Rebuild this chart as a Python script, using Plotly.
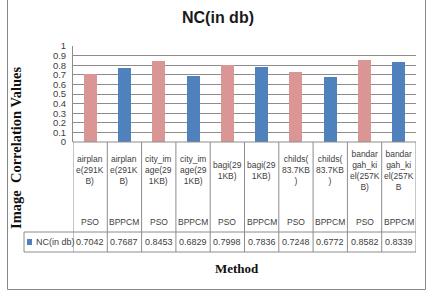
import plotly.graph_objects as go

# ---- data ----
image_labels = [
    "airplan<br>e(291K<br>B)", "airplan<br>e(291K<br>B)",
    "city_im<br>age(29<br>1KB)", "city_im<br>age(29<br>1KB)",
    "bagi(29<br>1KB)", "bagi(29<br>1KB)",
    "childs(<br>83.7KB<br>)", "childs(<br>83.7KB<br>)",
    "bandar<br>gah_ki<br>el(257K<br>B)", "bandar<br>gah_ki<br>el(257K<br>B",
]
methods = ["PSO", "BPPCM", "PSO", "BPPCM", "PSO", "BPPCM", "PSO", "BPPCM", "PSO", "BPPCM"]
nc_values = [0.7042, 0.7687, 0.8453, 0.6829, 0.7998, 0.7836, 0.7248, 0.6772, 0.8582, 0.8339]
value_labels = ["0.7042", "0.7687", "0.8453", "0.6829", "0.7998", "0.7836", "0.7248", "0.6772", "0.8582", "0.8339"]
series_name = "NC(in db)"

PINK = "#D99694"
BLUE = "#4F81BD"
method_colors = {"PSO": PINK, "BPPCM": BLUE}

W, H = 430, 300
L, R, T, B = 73, 416, 46, 142
LINE = "#8c8c8c"
TXT = "#404040"
SANS = "Liberation Sans, Arial, sans-serif"


def px(xp):
    return (xp - L) / (R - L)


def py(yp):
    return (B - yp) / (B - T)


n = len(nc_values)
xs = list(range(n))

fig = go.Figure()
fig.add_trace(go.Bar(
    x=xs, y=nc_values, width=0.38,
    marker=dict(color=[method_colors[m] for m in methods], line=dict(width=0)),
    showlegend=False, hoverinfo="skip",
))

shapes = []
# outer border
shapes.append(dict(type="rect", xref="paper", yref="paper", x0=px(7.5), x1=px(425.5),
                   y0=py(289.5), y1=py(-5), line=dict(color="#888888", width=1)))
# table horizontal lines
for yl in (142, 232, 252):
    x0 = 73 if yl == 142 else 24
    shapes.append(dict(type="line", xref="paper", yref="paper", x0=px(x0), x1=px(R),
                       y0=py(yl), y1=py(yl), line=dict(color=LINE, width=1)))
# table vertical lines
for k in range(n + 1):
    shapes.append(dict(type="line", xref="x", yref="paper", x0=k - 0.5, x1=k - 0.5,
                       y0=py(142), y1=py(252), line=dict(color=LINE, width=1)))
shapes.append(dict(type="line", xref="paper", yref="paper", x0=px(24), x1=px(24),
                   y0=py(232), y1=py(252), line=dict(color=LINE, width=1)))
# legend key
shapes.append(dict(type="rect", xref="paper", yref="paper", x0=px(27), x1=px(32),
                   y0=py(245), y1=py(239), fillcolor=BLUE, line=dict(width=0)))

ann = []
for i in range(n):
    ann.append(dict(x=i, y=py(170), xref="x", yref="paper", text=image_labels[i],
                    showarrow=False, font=dict(size=8.5, color=TXT, family=SANS),
                    xanchor="center", yanchor="middle"))
    ann.append(dict(x=i, y=py(222), xref="x", yref="paper", text=methods[i],
                    showarrow=False, font=dict(size=8.5, color=TXT, family=SANS),
                    xanchor="center", yanchor="middle"))
    ann.append(dict(x=i, y=py(242), xref="x", yref="paper", text=value_labels[i],
                    showarrow=False, font=dict(size=9, color=TXT, family=SANS),
                    xanchor="center", yanchor="middle"))
ann.append(dict(x=px(34), y=py(242), xref="paper", yref="paper", text=series_name,
                showarrow=False, font=dict(size=9, color=TXT, family=SANS),
                xanchor="left", yanchor="middle"))
ann.append(dict(x=px(218), y=py(18), xref="paper", yref="paper", text="<b>NC(in db)</b>",
                showarrow=False, font=dict(size=16, color="#1a1a1a", family=SANS),
                xanchor="center", yanchor="middle"))
ann.append(dict(x=px(237), y=py(268), xref="paper", yref="paper", text="<b>Method</b>",
                showarrow=False, font=dict(size=13, color="#111111", family="Liberation Serif, serif"),
                xanchor="center", yanchor="middle"))
ann.append(dict(x=px(16), y=py(148), xref="paper", yref="paper", text="<b>Image  Correlation Values</b>",
                showarrow=False, textangle=-90, font=dict(size=14.5, color="#111111", family="Liberation Serif, serif"),
                xanchor="center", yanchor="middle"))

fig.update_layout(
    width=W, height=H, margin=dict(l=L, r=W - R, t=T, b=H - B),
    paper_bgcolor="white", plot_bgcolor="white",
    shapes=shapes, annotations=ann, bargap=0,
    xaxis=dict(range=[-0.5, n - 0.5], showticklabels=False, showgrid=False, zeroline=False,
               showline=False, ticks=""),
    yaxis=dict(range=[0, 1], dtick=0.1, tick0=0, showgrid=True, gridcolor=LINE, gridwidth=1,
               zeroline=False, showline=True, linecolor=LINE, ticks="", ticklabelstandoff=4,
               tickformat="~g", tickfont=dict(size=9.5, color=TXT, family=SANS)),
)

fig.write_html("out.html")
